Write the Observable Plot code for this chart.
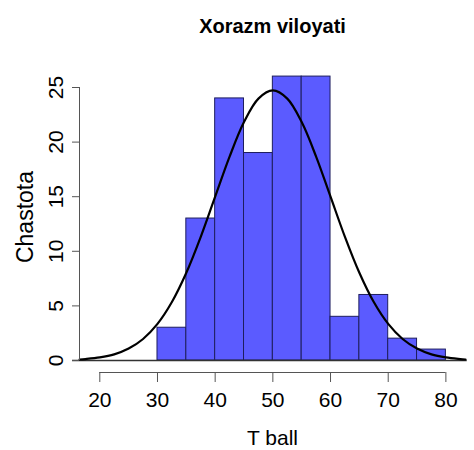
<!DOCTYPE html>
<html><head><meta charset="utf-8">
<script src="https://cdn.jsdelivr.net/npm/d3@7"></script>
<script src="https://cdn.jsdelivr.net/npm/@observablehq/plot@0.6"></script>
<style>
body{margin:0;background:#fff;}
#chart svg{display:block;}
</style></head>
<body><div id="chart"></div>
<script>
// Histogram bins (T ball) and frequencies (Chastota)
const binStart = [30, 35, 40, 45, 50, 55, 60, 65, 70, 75];
const binEnd   = [35, 40, 45, 50, 55, 60, 65, 70, 75, 80];
const counts   = [3, 13, 24, 19, 26, 26, 4, 6, 2, 1];

// Overlaid normal curve
const curveX = [16.5, 17.5, 20, 22.5, 25, 27.5, 30, 32.5, 35, 37.5, 40, 42.5, 45, 47.5, 50,
                52.5, 55, 57.5, 60, 62.5, 65, 67.5, 70, 72.5, 75, 77.5, 80, 82.5, 83.4];
const curveY = [0.09, 0.13, 0.28, 0.56, 1.09, 1.97, 3.35, 5.35, 8.03, 11.32, 15.0, 18.67, 21.83, 23.98, 24.73,
                23.98, 21.83, 18.67, 15.0, 11.32, 8.03, 5.35, 3.35, 1.97, 1.09, 0.56, 0.28, 0.13, 0.09];

const xTicks = [20, 30, 40, 50, 60, 70, 80];
const yTicks = [0, 5, 10, 15, 20, 25];
const title = "Xorazm viloyati";
const xLabel = "T ball";
const yLabel = "Chastota";

const bars = binStart.map((s, i) => ({x1: s, x2: binEnd[i], count: counts[i]}));
const curve = curveX.map((x, i) => ({x, y: curveY[i]}));

const xDomain = [16.48, 83.4];
const yDomain = [-1.1, 25];
const font = "'Liberation Sans', Arial, sans-serif";

const chart = Plot.plot({
  width: 474, height: 450,
  marginTop: 87, marginBottom: 78, marginLeft: 79, marginRight: 9,
  x: {domain: xDomain},
  y: {domain: yDomain},
  style: {fontFamily: font, background: "#fff", color: "#000"},
  marks: [
    Plot.rectY(bars, {x1: "x1", x2: "x2", y1: 0, y2: "count", fill: "#5b5bff", stroke: "#1e1e5e", strokeWidth: 1, inset: 0}),
    Plot.ruleY([0], {x1: 15.27, x2: 83.7, stroke: "#333", strokeWidth: 1.3}),
    Plot.line(curve, {x: "x", y: "y", stroke: "#000", strokeWidth: 2.2, curve: "catmull-rom"}),
    Plot.ruleX([xDomain[0]], {y1: 0, y2: 25, stroke: "#555", strokeWidth: 1}),
    Plot.ruleY([yDomain[0]], {x1: 20, x2: 80, stroke: "#555", strokeWidth: 1}),
    Plot.axisY({ticks: yTicks, tickSize: 7, tickRotate: -90, tickPadding: 10, fontSize: 21, label: null, stroke: "#555"}),
    Plot.axisX({ticks: xTicks, tickSize: 10, tickPadding: 10, fontSize: 21, label: null, stroke: "#555"}),
    Plot.text([yLabel], {frameAnchor: "left", textAnchor: "middle", lineAnchor: "middle", rotate: -90, dx: -54, dy: -13, fontSize: 23, fill: "#000"}),
    Plot.text([xLabel], {frameAnchor: "bottom", textAnchor: "middle", lineAnchor: "middle", dy: 66, fontSize: 21, fill: "#000"}),
    Plot.text([title], {frameAnchor: "top", textAnchor: "middle", lineAnchor: "middle", dy: -61, fontSize: 20, fontWeight: "bold", fill: "#000"})
  ]
});
document.getElementById("chart").appendChild(chart);
</script>
</body></html>
